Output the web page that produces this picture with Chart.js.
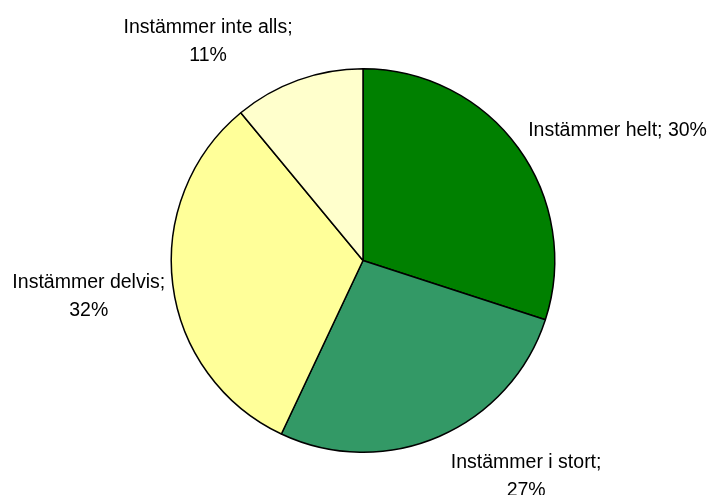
<!DOCTYPE html>
<html>
<head>
<meta charset="UTF-8">
<title>Instämmer</title>
<script src="https://cdn.jsdelivr.net/npm/chart.js@4/dist/chart.umd.min.js"></script>
<style>
  html, body { margin: 0; padding: 0; background: #ffffff; }
  #pie { display: block; }
</style>
</head>
<body>
<canvas id="pie" width="708" height="495"></canvas>
<script>
// data
var categories = ['Instämmer helt', 'Instämmer i stort', 'Instämmer delvis', 'Instämmer inte alls'];
var shares = [30, 27, 32, 11];
var sliceColors = ['#008000', '#339966', '#ffff99', '#ffffcc'];

// where each label sits relative to the outer edge of its slice (dx, dy, align, one or two lines)
var labelPlace = [
  { dx: 10, dy: -17, align: 'left', split: false },
  { dx: 87, dy: 26, align: 'center', split: true },
  { dx: -84, dy: -2, align: 'center', split: true },
  { dx: -90, dy: -52, align: 'center', split: true }
];

var sliceLabels = {
  id: 'sliceLabels',
  afterDatasetsDraw: function (chart) {
    var ctx = chart.ctx;
    var meta = chart.getDatasetMeta(0);
    ctx.save();
    ctx.font = '19.5px "Liberation Sans", Arial, sans-serif';
    ctx.fillStyle = '#000000';
    ctx.textBaseline = 'middle';
    meta.data.forEach(function (arc, i) {
      var p = arc.getProps(['x', 'y', 'startAngle', 'endAngle', 'outerRadius'], true);
      var mid = (p.startAngle + p.endAngle) / 2;
      var ex = p.x + Math.cos(mid) * p.outerRadius;
      var ey = p.y + Math.sin(mid) * p.outerRadius;
      var place = labelPlace[i];
      var x = ex + place.dx, y = ey + place.dy;
      ctx.textAlign = place.align;
      var pct = shares[i] + '%';
      if (place.split) {
        ctx.fillText(categories[i] + ';', x, y);
        ctx.fillText(pct, x, y + 28);
      } else {
        ctx.fillText(categories[i] + '; ' + pct, x, y);
      }
    });
    ctx.restore();
  }
};

var myChart = new Chart(document.getElementById('pie'), {
  type: 'pie',
  data: {
    labels: categories,
    datasets: [{
      data: shares,
      backgroundColor: sliceColors,
      borderColor: '#000000',
      borderWidth: 1.5
    }]
  },
  options: {
    responsive: false,
    animation: false,
    layout: {
      padding: { top: 68, bottom: 42, left: 170, right: 152 }
    },
    plugins: {
      legend: { display: false },
      tooltip: { enabled: false }
    }
  },
  plugins: [sliceLabels]
});
</script>
</body>
</html>
